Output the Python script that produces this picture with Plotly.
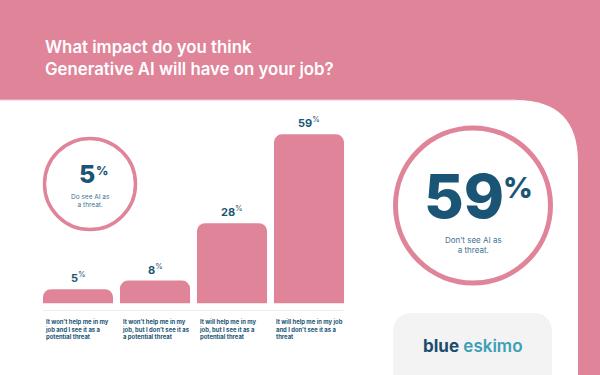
import plotly.graph_objects as go

# ---- data ----
categories = [
    "It won’t help me in my<br>job and I see it as a<br>potential threat",
    "It won’t help me in my<br>job, but I don’t see it as<br>a potential threat",
    "It will help me in my<br>job, but I see it as a<br>potential threat",
    "It will help me in my job<br>and I don’t see it as a<br>threat",
]
values = [5, 8, 28, 59]
threat_pct = 5
no_threat_pct = 59
title_text = "What impact do you think<br>Generative AI will have on your job?"
threat_caption = "Do see AI as<br>a threat."
no_threat_caption = "Don’t see AI as<br>a threat."

# ---- style ----
W, H = 600, 375
PINK = "#E0849A"
DARK = "#1B5576"
CAPTION = "#3E7393"
FONT = "Inter"


def px(x):
    return x / W


def py(y):
    return 1 - y / H


fig = go.Figure()
fig.add_trace(go.Bar(
    x=list(range(len(categories))), y=values,
    marker=dict(color=PINK, line=dict(width=0)),
    hoverinfo="skip",
))

shapes = []
# white panel with rounded top-right corner
r = 62
path = (f"M {px(0)},{py(100)} L {px(578 - r)},{py(100)} "
        f"Q {px(578)},{py(100)} {px(578)},{py(100 + r)} "
        f"L {px(578)},{py(375)} L {px(0)},{py(375)} Z")
shapes.append(dict(type="path", path=path, xref="paper", yref="paper",
                   fillcolor="white", line=dict(width=0), layer="below"))
shapes.append(dict(type="line", xref="paper", yref="paper",
                   x0=px(0), x1=px(578 - r), y0=py(100), y1=py(100),
                   line=dict(color="#F3C9D3", width=1.2), layer="below"))
# logo box
lr = 20
lpath = (f"M {px(393)},{py(375)} L {px(393)},{py(313 + lr)} "
         f"Q {px(393)},{py(313)} {px(393 + lr)},{py(313)} "
         f"L {px(552 - lr)},{py(313)} Q {px(552)},{py(313)} {px(552)},{py(313 + lr)} "
         f"L {px(552)},{py(375)} Z")
shapes.append(dict(type="path", path=lpath, xref="paper", yref="paper",
                   fillcolor="#F3F3F4", line=dict(width=0), layer="below"))
# circles
for cx, cy, rr, lw in [(90, 184, 45.5, 3.5), (473, 205.5, 77.5, 5)]:
    shapes.append(dict(type="circle", xref="paper", yref="paper",
                       x0=px(cx - rr), x1=px(cx + rr), y0=py(cy + rr), y1=py(cy - rr),
                       line=dict(color=PINK, width=lw), fillcolor="rgba(0,0,0,0)"))
# separator below bars
shapes.append(dict(type="line", xref="x", yref="paper", x0=-0.455, x1=len(values) - 1 + 0.455,
                   y0=py(310.5), y1=py(310.5), line=dict(color="#ECECEC", width=1)))

ann = []
# title
ann.append(dict(text=title_text, x=px(43), y=py(35), xref="paper", yref="paper",
                xanchor="left", yanchor="top", align="left", showarrow=False,
                font=dict(family=FONT, size=16.8, color="white", weight=600)))
# value labels and category labels
for i, (c, v) in enumerate(zip(categories, values)):
    ann.append(dict(text=f"<b>{v}</b><sup>%</sup>", x=i, y=v, xref="x", yref="y",
                    yanchor="bottom", showarrow=False, yshift=2,
                    font=dict(family=FONT, size=11, color=DARK)))
    ann.append(dict(text=c, x=i - 0.455, y=py(316), xref="x", yref="paper",
                    xanchor="left", yanchor="top", align="left", showarrow=False,
                    font=dict(family=FONT, size=5.9, color=DARK, weight=700)))
# left circle
ann.append(dict(text=f"{threat_pct}", x=px(97), y=py(174), xref="paper", yref="paper",
                xanchor="right", yanchor="middle", showarrow=False,
                font=dict(family=FONT, size=25, color=DARK, weight=800)))
ann.append(dict(text="%", x=px(94), y=py(170.5), xref="paper", yref="paper",
                xanchor="left", yanchor="middle", showarrow=False,
                font=dict(family=FONT, size=12, color=DARK, weight=800)))
ann.append(dict(text=threat_caption, x=px(90), y=py(201), xref="paper", yref="paper",
                xanchor="center", yanchor="middle", showarrow=False,
                font=dict(family=FONT, size=6.5, color=CAPTION)))
# right circle
ann.append(dict(text=f"{no_threat_pct}", x=px(506), y=py(195.5), xref="paper", yref="paper",
                xanchor="right", yanchor="middle", showarrow=False,
                font=dict(family=FONT, size=61, color=DARK, weight=800)))
ann.append(dict(text="%", x=px(501), y=py(187.5), xref="paper", yref="paper",
                xanchor="left", yanchor="middle", showarrow=False,
                font=dict(family=FONT, size=29, color=DARK, weight=800)))
ann.append(dict(text=no_threat_caption, x=px(473), y=py(244.5), xref="paper", yref="paper",
                xanchor="center", yanchor="middle", showarrow=False,
                font=dict(family=FONT, size=8, color=CAPTION)))
# logo
ann.append(dict(text="<b>blue</b> <span style='color:#3BA0B6'>eskimo</span>",
                x=px(473), y=py(346), xref="paper", yref="paper",
                xanchor="center", yanchor="middle", showarrow=False,
                font=dict(family=FONT, size=17, color="#1C4C6C", weight=600)))

fig.update_layout(
    width=W, height=H, margin=dict(l=0, r=0, t=0, b=0),
    paper_bgcolor=PINK, plot_bgcolor="rgba(0,0,0,0)",
    showlegend=False, bargap=0.09, barcornerradius=8,
    shapes=shapes, annotations=ann,
    xaxis=dict(domain=[px(39.5), px(347.5)], range=[-0.5, len(values) - 0.5],
               showticklabels=False, showgrid=False, zeroline=False, showline=False,
               fixedrange=True),
    yaxis=dict(domain=[py(303.5), py(131.5)], range=[0, 60],
               showticklabels=False, showgrid=False, zeroline=False, showline=False,
               fixedrange=True),
)

fig.write_html("out.html", config={"displayModeBar": False},
               post_script="document.body.style.margin='0';document.body.style.padding='0';")
